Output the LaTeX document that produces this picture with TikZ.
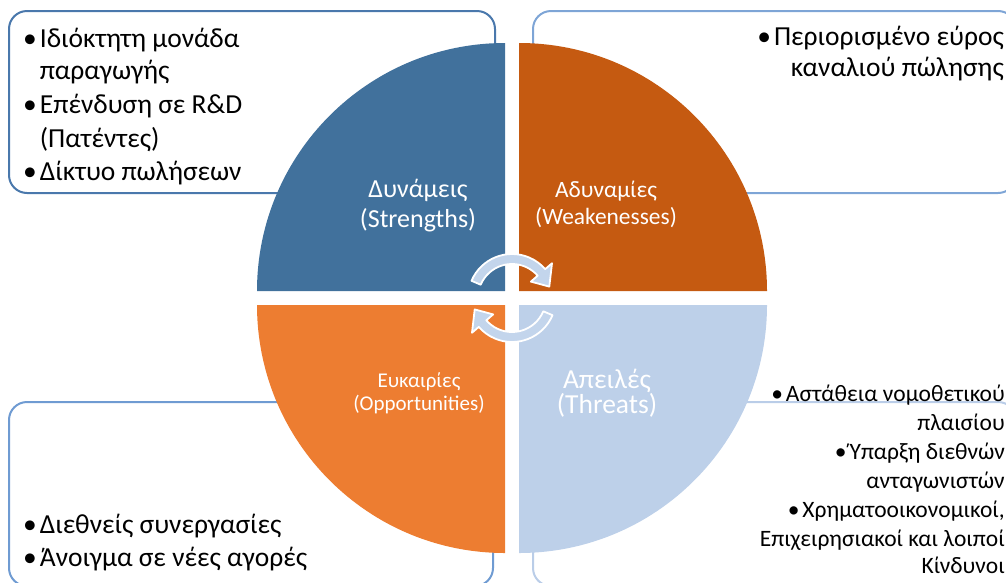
\documentclass[tikz,border=0pt]{standalone}
\usepackage{fontspec}
\setmainfont{Carlito}
\definecolor{cS}{HTML}{41719C}
\definecolor{cW}{HTML}{C55A11}
\definecolor{cO}{HTML}{ED7D31}
\definecolor{cT}{HTML}{BDD0E9}
\definecolor{bTL}{HTML}{4A78AC}
\definecolor{bTR}{HTML}{7EA5D6}
\definecolor{bBL}{HTML}{6F9BD2}
\definecolor{bBR}{HTML}{BACDE8}
\definecolor{arrowfill}{HTML}{C3D5EC}
\newcommand\mybul{•\hspace{3pt}}
\begin{document}
\begin{tikzpicture}[x=1pt,y=-1pt,
  box/.style={line width=2pt, rounded corners=18pt},
  body/.style={font=\fontsize{27.5}{33}\selectfont, inner sep=0pt, text=black},
  small/.style={font=\fontsize{23.5}{28}\selectfont, inner sep=0pt, text=black, anchor=base east},
  lbl/.style={text=white, inner sep=0pt, anchor=base},
  arr/.style={fill=arrowfill, draw=white, line width=1.8pt, line join=round}
]
\useasboundingbox (0,0) rectangle (1006,582);
\clip (0,0) rectangle (1006,582);
% boxes
\draw[box, draw=bTL] (9,11) rectangle (495,193);
\draw[box, draw=bTR] (533,11) rectangle (1016,193);
\draw[box, draw=bBL] (9,402) rectangle (493,586);
\draw[box, draw=bBR] (533,402) rectangle (1016,586);
% quadrants
\fill[cS] (505,291) -- ++(-248,0) arc[start angle=180,end angle=270,radius=248] -- cycle;
\fill[cW] (519,291) -- ++(0,-248) arc[start angle=270,end angle=360,radius=248] -- cycle;
\fill[cO] (505,305) -- ++(-248,0) arc[start angle=180,end angle=90,radius=248] -- cycle;
\fill[cT] (519,305) -- ++(248,0) arc[start angle=0,end angle=90,radius=248] -- cycle;
% cycle arrows
\begin{scope}[shift={(512,298)}, yscale=-1]
  \filldraw[arr] (157:44) arc[start angle=157,end angle=41,radius=44] -- (41:53) -- (17:39) -- (41:25) -- (41:34) arc[start angle=41,end angle=157,radius=34] -- cycle;
  \begin{scope}[rotate=180]
  \filldraw[arr] (157:44) arc[start angle=157,end angle=41,radius=44] -- (41:53) -- (17:39) -- (41:25) -- (41:34) arc[start angle=41,end angle=157,radius=34] -- cycle;
  \end{scope}
\end{scope}
% quadrant labels
\node[lbl, font=\fontsize{26}{30}\selectfont] (Sa) at (418,197) {Δυνάμεις};
\node[lbl, font=\fontsize{26}{30}\selectfont] (Sb) at (418,227) {(Strengths)};
\node[lbl, font=\fontsize{23.4}{28}\selectfont] (Wa) at (606,197) {Αδυναμίες};
\node[lbl, font=\fontsize{23.4}{28}\selectfont] (Wb) at (606,224) {(Weakenesses)};
\node[lbl, font=\fontsize{21}{25}\selectfont] (Oa) at (419,387) {Ευκαιρίες};
\node[lbl, font=\fontsize{21}{25}\selectfont] (Ob) at (419,410) {(Opportunities)};
\node[lbl, font=\fontsize{27.5}{30}\selectfont] (Ta) at (607,388) {Απειλές};
\node[lbl, font=\fontsize{27.5}{30}\selectfont] (Tb) at (607,413) {(Threats)};
% strengths list
\node[body, anchor=base west] (s1) at (23,47) {\mybul Ιδιόκτητη μονάδα};
\node[body, anchor=base west] (s1b) at (23,79) {\phantom{\mybul}παραγωγής};
\node[body, anchor=base west] (s2) at (23,113) {\mybul Επένδυση σε R\&D};
\node[body, anchor=base west] (s2b) at (23,147) {\phantom{\mybul}(Πατέντες)};
\node[body, anchor=base west] (s3) at (23,180) {\mybul Δίκτυο πωλήσεων};
% weaknesses list
\node[body, anchor=base east] (w1) at (1004,45) {\mybul Περιορισμένο εύρος};
\node[body, anchor=base east] (w1b) at (1004,76) {καναλιού πώλησης};
% opportunities list
\node[body, anchor=base west] (o1) at (23,533) {\mybul Διεθνείς συνεργασίες};
\node[body, anchor=base west] (o2) at (23,566) {\mybul Άνοιγμα σε νέες αγορές};
% threats list
\node[small] (t1) at (1005,401) {\mybul Αστάθεια νομοθετικού};
\node[small] (t1b) at (1005,430) {πλαισίου};
\node[small] (t2) at (1005,459) {\mybul Ύπαρξη διεθνών};
\node[small] (t2b) at (1005,488) {ανταγωνιστών};
\node[small] (t3) at (1005,517) {\mybul Χρηματοοικονομικοί,};
\node[small] (t3b) at (1005,546) {Επιχειρησιακοί και λοιποί};
\node[small] (t3c) at (1005,573) {Κίνδυνοι};
\end{tikzpicture}
\end{document}
